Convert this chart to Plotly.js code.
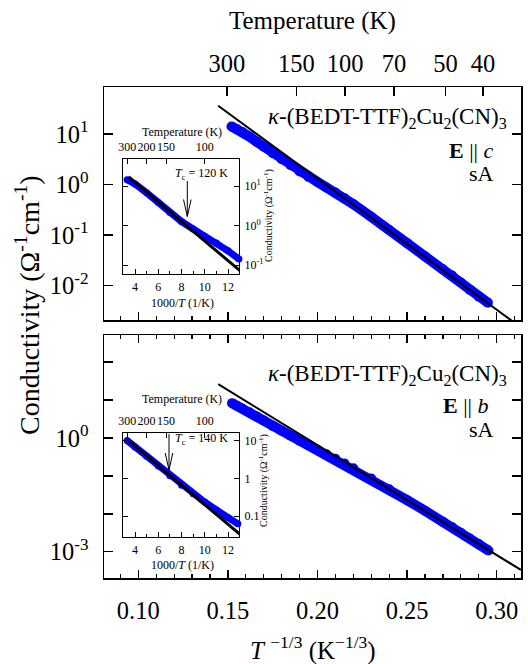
<!DOCTYPE html>
<html><head><meta charset="utf-8">
<script src="https://cdn.plot.ly/plotly-3.0.1.min.js"></script>
<style>html,body{margin:0;padding:0;background:#fff}</style>
</head><body><div id="chart" style="width:528px;height:664px"></div>
<script>
// ---------- data (x = T^-1/3 in K^-1/3, values = log10 conductivity in S/cm) ----------
const upperX = [0.152,0.155,0.158,0.162,0.166,0.170,0.175,0.180,0.185,0.190,0.195,0.200,0.205,0.210,0.215,0.220,0.230,0.240,0.250,0.260,0.270,0.275,0.280,0.285,0.290,0.2951];
const upperLogSigma = [1.15,1.10,1.04,0.95,0.85,0.75,0.62,0.50,0.38,0.26,0.15,0.05,-0.06,-0.16,-0.27,-0.39,-0.64,-0.90,-1.16,-1.42,-1.68,-1.80,-1.94,-2.09,-2.22,-2.34];
const upperFitX = [0.1446, 0.3135];
const upperFitLogSigma = [1.56, -2.83];

const lowerX = [0.1523,0.155,0.158,0.162,0.166,0.170,0.175,0.180,0.185,0.190,0.195,0.200,0.205,0.210,0.215,0.220,0.230,0.240,0.250,0.260,0.270,0.275,0.280,0.285,0.290,0.2954];
const lowerLogSigma = [0.92,0.85,0.78,0.68,0.57,0.46,0.32,0.19,0.06,-0.07,-0.19,-0.31,-0.43,-0.55,-0.67,-0.80,-1.07,-1.35,-1.64,-1.92,-2.21,-2.35,-2.50,-2.65,-2.80,-2.97];
const lowerFitX = [0.1446, 0.3135];
const lowerFitLogSigma = [1.42, -3.48];

// insets: x = 1000/T (1/K)
const insetUpperX = [3.32,4,5,6,7,8,9,10,11,12,12.94];
const insetUpperLogSigma = [1.16,1.05,0.83,0.58,0.33,0.10,-0.09,-0.27,-0.44,-0.64,-0.85];
const insetUpperFitX = [3.46, 13.09];
const insetUpperFitLogSigma = [1.23, -1.16];

const insetLowerX = [3.32,4,5,6,7,8,9,10,11,12,12.85];
const insetLowerLogSigma = [1.01,0.84,0.59,0.33,0.07,-0.18,-0.41,-0.63,-0.84,-1.04,-1.21];
const insetLowerFitX = [3.46, 13.03];
const insetLowerFitLogSigma = [1.01, -1.49];

// ticks / labels
const mainTempTicks = [300,150,100,70,50,40];
const insetTempTicks = [300,200,150,100];
const upperYTicks = [10,1,0.1,0.01];
const upperYText = ['10<sup>1</sup>','10<sup>0</sup>','10<sup>-1</sup>','10<sup>-2</sup>'];
const lowerYTicks = [100,10,1,0.1,0.01,0.001];
const lowerYText = ['','','10<sup>0</sup>','','','10<sup>-3</sup>'];
const insetUpperYTicks = [10,1,0.1];
const insetUpperYText = ['10<sup>1</sup>','10<sup>0</sup>','10<sup>-1</sup>'];
const insetLowerYTicks = [10,1,0.1];
const insetLowerYText = ['10','1','0.1'];

// ---------- helpers ----------
const W = 528, H = 664;
const px = v => v / W;
const py = v => 1 - v / H;
const pow10 = a => a.map(v => Math.pow(10, v));
const serif = '"Liberation Serif", "DejaVu Serif", serif';
const BLUE = '#0000ff';

function dataTrace(x, logy, xa, ya, w) {
  return {x: x, y: pow10(logy), xaxis: xa, yaxis: ya, type: 'scatter', mode: 'lines+markers',
    line: {color: BLUE, width: w}, marker: {color: BLUE, size: w}, cliponaxis: false, hoverinfo: 'skip'};
}
function fitTrace(x, logy, xa, ya, w) {
  return {x: x, y: pow10(logy), xaxis: xa, yaxis: ya, type: 'scatter', mode: 'lines',
    line: {color: 'black', width: w}, hoverinfo: 'skip'};
}
function ghost(xa, ya) {
  return {x: [], y: [], xaxis: xa, yaxis: ya, type: 'scatter', mode: 'markers', hoverinfo: 'skip'};
}

const traces = [
  dataTrace(upperX, upperLogSigma, 'x2', 'y2', 10),
  fitTrace(upperFitX, upperFitLogSigma, 'x2', 'y2', 2),
  ghost('x3', 'y2'),
  dataTrace(lowerX, lowerLogSigma, 'x', 'y', 10),
  fitTrace(lowerFitX, lowerFitLogSigma, 'x', 'y', 2),
  dataTrace(insetUpperX, insetUpperLogSigma, 'x4', 'y3', 7),
  fitTrace(insetUpperFitX, insetUpperFitLogSigma, 'x4', 'y3', 3),
  ghost('x5', 'y3'),
  dataTrace(insetLowerX, insetLowerLogSigma, 'x6', 'y4', 7),
  fitTrace(insetLowerFitX, insetLowerFitLogSigma, 'x6', 'y4', 3),
  ghost('x7', 'y4')
];

const mainXRange = [0.08086, 0.31356];
const mainXDomain = [px(104), px(521)];
const insetXRange = [2.968, 12.946];
const insetXDomain = [px(123), px(239)];

const baseAx = {showgrid: false, zeroline: false, showline: true, linecolor: 'black', ticks: 'inside', tickcolor: 'black', automargin: false, fixedrange: true, tickangle: 0};

function mainX(anchor, labels) {
  return Object.assign({}, baseAx, {
    domain: mainXDomain, anchor: anchor, range: mainXRange, tickmode: 'linear', tick0: 0.1, dtick: 0.05,
    tickformat: '.2f', ticklen: 8, tickwidth: 1.5, linewidth: 1.5, showticklabels: labels,
    tickfont: {family: serif, size: 24.5}, ticklabelstandoff: 10,
    minor: {tick0: 0, dtick: 0.01, ticks: 'inside', ticklen: 4, tickwidth: 1.2, tickcolor: 'black'}
  });
}
function insetX(anchor) {
  return Object.assign({}, baseAx, {
    domain: insetXDomain, anchor: anchor, range: insetXRange, tickmode: 'linear', tick0: 4, dtick: 2,
    ticklen: 5, tickwidth: 1, linewidth: 1, tickfont: {family: serif, size: 12}, ticklabelstandoff: 2,
    minor: {tick0: 0, dtick: 1, ticks: 'inside', ticklen: 3, tickwidth: 1, tickcolor: 'black'}
  });
}
function insetTop(overlay, anchor) {
  return Object.assign({}, baseAx, {
    overlaying: overlay, anchor: anchor, side: 'top', range: insetXRange, tickmode: 'array',
    tickvals: insetTempTicks.map(t => 1000 / t), ticktext: insetTempTicks.map(String),
    ticklen: 5, tickwidth: 1, linewidth: 1, tickfont: {family: serif, size: 12}, ticklabelstandoff: 2
  });
}
function insetY(anchor, dom, range, vals, text) {
  return Object.assign({}, baseAx, {
    domain: dom, anchor: anchor, side: 'right', type: 'log', range: range, tickmode: 'array',
    tickvals: vals, ticktext: text, ticklen: 5, tickwidth: 1, linewidth: 1, mirror: 'ticks',
    tickfont: {family: serif, size: 12}, ticklabelstandoff: 2
  });
}

const layout = {
  width: W, height: H, margin: {l: 0, r: 0, t: 0, b: 0}, showlegend: false,
  paper_bgcolor: 'white', plot_bgcolor: 'rgba(0,0,0,0)',
  font: {family: serif, color: 'black', size: 24},
  xaxis: Object.assign(mainX('y', true), {mirror: 'ticks'}),
  xaxis2: mainX('y2', false),
  xaxis3: Object.assign({}, baseAx, {
    overlaying: 'x2', anchor: 'y2', side: 'top', range: mainXRange, tickmode: 'array',
    tickvals: mainTempTicks.map(t => Math.pow(t, -1 / 3)), ticktext: mainTempTicks.map(String),
    ticklen: 9, tickwidth: 1.5, linewidth: 1.5, tickfont: {family: serif, size: 24.5}, ticklabelstandoff: 4
  }),
  yaxis: Object.assign({}, baseAx, {
    domain: [py(578), py(335)], anchor: 'x', type: 'log', range: [-3.694, 2.718], tickmode: 'array',
    tickvals: lowerYTicks, ticktext: lowerYText, ticklen: 9, tickwidth: 1.5, linewidth: 1.5, mirror: 'ticks',
    tickfont: {family: serif, size: 24.5}, ticklabelstandoff: 9
  }),
  yaxis2: Object.assign({}, baseAx, {
    domain: [py(320), py(87)], anchor: 'x2', type: 'log', range: [-2.683, 1.931], tickmode: 'array',
    tickvals: upperYTicks, ticktext: upperYText, ticklen: 9, tickwidth: 1.5, linewidth: 1.5, mirror: 'ticks',
    tickfont: {family: serif, size: 24.5}, ticklabelstandoff: 9
  }),
  xaxis4: insetX('y3'),
  xaxis5: insetTop('x4', 'y3'),
  yaxis3: insetY('x4', [py(274), py(159)], [-1.228, 1.684], insetUpperYTicks, insetUpperYText),
  xaxis6: insetX('y4'),
  xaxis7: insetTop('x6', 'y4'),
  yaxis4: insetY('x6', [py(537), py(433)], [-1.56, 1.213], insetLowerYTicks, insetLowerYText),
  annotations: [
    {text: 'Temperature (K)', x: px(312), y: py(21), font: {size: 25}},
    {text: '<i>T</i> <sup>\u22121/3</sup> (K<sup>\u22121/3</sup>)', x: px(313), y: py(648), font: {size: 25}},
    {text: 'Conductivity (\u03A9<sup>-1</sup>cm<sup>-1</sup>)', x: px(28), y: py(305), textangle: -90, font: {size: 28}},
    {text: '<i>\u03BA</i>-(BEDT-TTF)<sub>2</sub>Cu<sub>2</sub>(CN)<sub>3</sub>', x: px(509), y: py(118), xanchor: 'right', font: {size: 23}},
    {text: '<b>E</b> || <i>c</i>', x: px(496), y: py(151), xanchor: 'right', font: {size: 22}},
    {text: 'sA', x: px(496), y: py(173), xanchor: 'right', font: {size: 22}},
    {text: '<i>\u03BA</i>-(BEDT-TTF)<sub>2</sub>Cu<sub>2</sub>(CN)<sub>3</sub>', x: px(509), y: py(375), xanchor: 'right', font: {size: 23}},
    {text: '<b>E</b> || <i>b</i>', x: px(491), y: py(405), xanchor: 'right', font: {size: 22}},
    {text: 'sA', x: px(496), y: py(429), xanchor: 'right', font: {size: 22}},
    // inset texts
    {text: 'Temperature (K)', x: px(182), y: py(132), font: {size: 12}},
    {text: '1000/<i>T</i> (1/K)', x: px(182), y: py(303), font: {size: 12}},
    {text: 'Conductivity (\u03A9<sup>-1</sup>cm<sup>-1</sup>)', x: px(268), y: py(216), textangle: -90, font: {size: 10}},
    {text: '<i>T</i><sub>c</sub> = 120 K', x: px(201), y: py(174), font: {size: 12}},
    {text: 'Temperature (K)', x: px(182), y: py(399), font: {size: 12}},
    {text: '1000/<i>T</i> (1/K)', x: px(182), y: py(565), font: {size: 12}},
    {text: 'Conductivity (\u03A9<sup>-1</sup>cm<sup>-1</sup>)', x: px(263), y: py(481), textangle: -90, font: {size: 10}},
    {text: '<i>T</i><sub>c</sub> = 140 K', x: px(201), y: py(439), font: {size: 12}}
  ].map(a => Object.assign({xref: 'paper', yref: 'paper', showarrow: false, xanchor: 'center', yanchor: 'middle'}, a,
        {font: Object.assign({family: serif, color: 'black'}, a.font)})),
  shapes: [
    {type: 'line', x0: px(187.3), x1: px(187.3), y0: py(181), y1: py(216.5)},
    {type: 'path', path: `M ${px(183.5)},${py(199.5)} L ${px(187.3)},${py(216.5)} L ${px(191.1)},${py(199.5)}`},
    {type: 'line', x0: px(169), x1: px(169), y0: py(434), y1: py(470)},
    {type: 'path', path: `M ${px(165.2)},${py(453)} L ${px(169)},${py(470)} L ${px(172.8)},${py(453)}`}
  ].map(s => Object.assign({xref: 'paper', yref: 'paper', line: {color: 'black', width: 1}}, s))
};

Plotly.newPlot('chart', traces, layout, {staticPlot: true, displayModeBar: false});
</script>
</body></html>
